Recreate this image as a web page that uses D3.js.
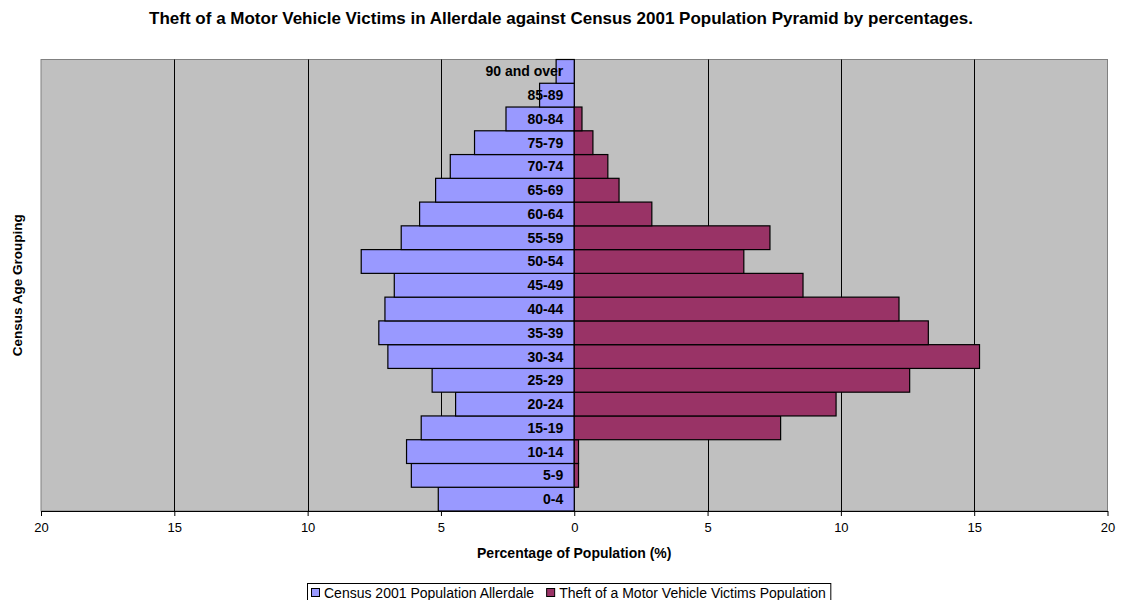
<!DOCTYPE html>
<html>
<head>
<meta charset="utf-8">
<script src="https://cdn.jsdelivr.net/npm/d3@7"></script>
<style>
  html, body { margin: 0; padding: 0; background: #fff; }
  svg { display: block; font-family: "Liberation Sans", Arial, sans-serif; }
</style>
</head>
<body>
<svg id="chart" width="1122" height="600"></svg>
<script>
const categories = ["0-4","5-9","10-14","15-19","20-24","25-29","30-34","35-39","40-44","45-49","50-54","55-59","60-64","65-69","70-74","75-79","80-84","85-89","90 and over"];
const censusValues = [5.10, 6.11, 6.29, 5.74, 4.45, 5.33, 6.99, 7.33, 7.10, 6.75, 7.99, 6.49, 5.80, 5.20, 4.65, 3.74, 2.56, 1.30, 0.68];
const theftValues = [0, 0.16, 0.16, 7.74, 9.82, 12.58, 15.20, 13.28, 12.18, 8.58, 6.36, 7.34, 2.91, 1.68, 1.26, 0.70, 0.29, 0, 0];
const xTicks = [-20, -15, -10, -5, 0, 5, 10, 15, 20];
const seriesNames = ["Census 2001 Population Allerdale", "Theft of a Motor Vehicle Victims Population"];
const seriesColors = ["#9999FF", "#993366"];

(function () {
const svg = d3.select("#chart");
const pLeft = 41, pRight = 1107.5, pTop = 59.5, pBottom = 511;

const x = d3.scaleLinear().domain([-20, 20]).range([pLeft, pRight]);
const y = d3.scaleBand().domain(categories.slice().reverse()).range([pTop, pBottom]).padding(0);

// title
svg.append("text").attr("x", 561).attr("y", 24).attr("text-anchor", "middle")
  .attr("font-size", 17).attr("font-weight", "bold")
  .text("Theft of a Motor Vehicle Victims in Allerdale against Census 2001 Population Pyramid by percentages.");

// plot background
svg.append("rect").attr("x", pLeft).attr("y", pTop).attr("width", pRight - pLeft).attr("height", pBottom - pTop)
  .attr("fill", "#C0C0C0").attr("stroke", "#808080").attr("stroke-width", 1);

// gridlines
svg.append("g").selectAll("line").data(xTicks.filter(d => d !== -20 && d !== 20)).join("line")
  .attr("x1", d => Math.round(x(d)) + 0.5).attr("x2", d => Math.round(x(d)) + 0.5)
  .attr("y1", pTop).attr("y2", pBottom).attr("stroke", "#000").attr("stroke-width", 1);

// bars
const bars = svg.append("g").attr("stroke", "#000").attr("stroke-width", 1.2);
bars.selectAll("rect.census").data(categories).join("rect").attr("class", "census")
  .attr("x", (d, i) => x(-censusValues[i])).attr("y", d => y(d))
  .attr("width", (d, i) => x(0) - x(-censusValues[i])).attr("height", y.bandwidth())
  .attr("fill", seriesColors[0]);
bars.selectAll("rect.theft").data(categories.filter(d => theftValues[categories.indexOf(d)] > 0)).join("rect").attr("class", "theft")
  .attr("x", x(0)).attr("y", d => y(d))
  .attr("width", d => x(theftValues[categories.indexOf(d)]) - x(0)).attr("height", y.bandwidth())
  .attr("fill", seriesColors[1]);

// category labels
svg.append("g").selectAll("text").data(categories).join("text")
  .attr("x", x(0) - 11).attr("y", d => y(d) + y.bandwidth() / 2 + 5)
  .attr("text-anchor", "end").attr("font-size", 14).attr("font-weight", "bold").attr("fill", "#000")
  .text(d => d);

// x axis
const xAxis = d3.axisBottom(x).tickValues(xTicks).tickFormat(d => Math.abs(d)).tickSize(5).tickSizeOuter(0);
const ax = svg.append("g").attr("transform", `translate(0,${pBottom})`).call(xAxis);
ax.select(".domain").attr("stroke", "#000");
ax.selectAll(".tick line").attr("stroke", "#000");
ax.selectAll(".tick text").attr("font-size", 13).attr("font-family", "Liberation Sans, Arial, sans-serif").attr("fill", "#000").attr("dy", "1em");

// axis titles
svg.append("text").attr("x", x(0)).attr("y", 558).attr("text-anchor", "middle")
  .attr("font-size", 14).attr("font-weight", "bold").text("Percentage of Population (%)");
svg.append("text").attr("transform", `translate(22,${(pTop + pBottom) / 2}) rotate(-90)`).attr("text-anchor", "middle")
  .attr("font-size", 13.5).attr("font-weight", "bold").text("Census Age Grouping");

// legend
const lg = svg.append("g");
const box = lg.append("rect").attr("x", 307.5).attr("y", 583.5).attr("height", 20)
  .attr("fill", "#fff").attr("stroke", "#000").attr("stroke-width", 1);
let cx = 311;
seriesNames.forEach((name, i) => {
  lg.append("rect").attr("x", cx + 0.5).attr("y", 588.5).attr("width", 8).attr("height", 8)
    .attr("fill", seriesColors[i]).attr("stroke", "#000").attr("stroke-width", 1);
  const t = lg.append("text").attr("x", cx + 13).attr("y", 598).attr("font-size", 14).text(name);
  cx = cx + 13 + t.node().getComputedTextLength() + 12;
});
box.attr("width", cx - 12 + 5 - 307.5);
})();
</script>
</body>
</html>
